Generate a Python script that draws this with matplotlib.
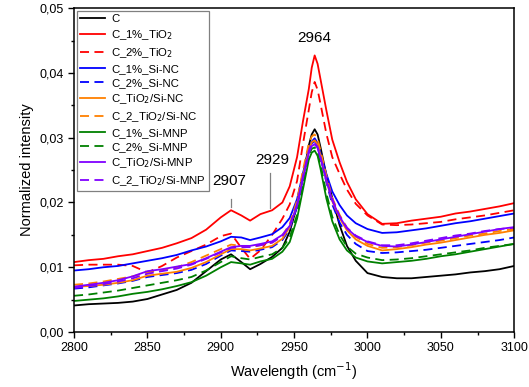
import matplotlib
matplotlib.use('Agg')
import matplotlib.pyplot as plt
from matplotlib.ticker import MultipleLocator, FuncFormatter

plt.rcParams['font.family'] = ['Liberation Sans', 'DejaVu Sans']

wn = [2800, 2810, 2820, 2830, 2840, 2850, 2860, 2870, 2880, 2890, 2900, 2907, 2914,
      2920, 2927, 2935, 2942, 2947, 2952, 2956, 2960, 2962, 2964, 2966, 2968, 2972,
      2976, 2981, 2986, 2992, 3000, 3010, 3020, 3030, 3040, 3050, 3060, 3070, 3080,
      3090, 3100]

c_plain = [.0041, .0043, .0044, .0045, .0047, .0051, .0058, .0065, .0076, .0094, .0112,
           .0120, .0108, .0097, .0105, .0116, .0130, .0155, .0195, .0240, .0288, .0305,
           .0313, .0305, .0285, .0242, .0207, .0165, .0133, .0110, .0091, .0085, .0083,
           .0083, .0085, .0087, .0089, .0092, .0094, .0097, .0102]
c_1_tio2 = [.0108, .0111, .0113, .0117, .0120, .0125, .0130, .0137, .0145, .0158, .0177,
            .0188, .0180, .0172, .0182, .0188, .0200, .0225, .0270, .0325, .0375, .0408,
            .0427, .0414, .0390, .0342, .0297, .0262, .0232, .0205, .0182, .0167, .0168,
            .0172, .0175, .0178, .0183, .0186, .0190, .0194, .0199]
c_2_tio2 = [.0103, .0104, .0104, .0104, .0102, .0092, .0102, .0115, .0125, .0135, .0148,
            .0152, .0130, .0113, .0126, .0150, .0175, .0197, .0233, .0290, .0343, .0370,
            .0386, .0374, .0352, .0306, .0270, .0244, .0220, .0198, .0180, .0166, .0165,
            .0166, .0168, .0170, .0174, .0177, .0180, .0184, .0188]
c_1_sinc = [.0095, .0097, .0100, .0102, .0106, .0110, .0114, .0119, .0126, .0132, .0140,
            .0147, .0146, .0142, .0146, .0151, .0162, .0176, .0205, .0245, .0282, .0294,
            .0299, .0292, .0276, .0244, .0217, .0196, .0180, .0168, .0159, .0153, .0154,
            .0157, .0160, .0164, .0168, .0171, .0175, .0179, .0183]
c_2_sinc = [.0067, .0069, .0072, .0075, .0079, .0085, .0088, .0091, .0096, .0105, .0118,
            .0126, .0125, .0124, .0127, .0131, .0142, .0159, .0193, .0237, .0279, .0291,
            .0295, .0288, .0270, .0231, .0197, .0169, .0150, .0136, .0125, .0122, .0123,
            .0125, .0127, .0130, .0133, .0136, .0139, .0142, .0146]
c_tio2_sinc = [.0070, .0071, .0073, .0076, .0080, .0087, .0090, .0093, .0099, .0108, .0120,
               .0128, .0128, .0126, .0129, .0133, .0144, .0162, .0197, .0241, .0281, .0293,
               .0296, .0289, .0272, .0234, .0202, .0176, .0157, .0143, .0133, .0126, .0128,
               .0131, .0135, .0138, .0142, .0146, .0150, .0153, .0157]
c_2_tio2_sinc = [.0073, .0075, .0078, .0082, .0086, .0092, .0096, .0100, .0108, .0118, .0128,
                 .0135, .0133, .0131, .0134, .0138, .0149, .0167, .0203, .0250, .0291, .0302,
                 .0305, .0298, .0280, .0241, .0207, .0181, .0161, .0147, .0136, .0130, .0131,
                 .0134, .0138, .0141, .0145, .0149, .0152, .0156, .0159]
c_1_simnp = [.0048, .0050, .0052, .0055, .0059, .0062, .0066, .0071, .0077, .0087, .0100,
             .0108, .0106, .0104, .0109, .0113, .0124, .0139, .0175, .0220, .0266, .0277,
             .0280, .0272, .0252, .0206, .0171, .0143, .0126, .0115, .0109, .0106, .0108,
             .0110, .0113, .0117, .0120, .0124, .0128, .0132, .0136]
c_2_simnp = [.0056, .0058, .0061, .0064, .0068, .0072, .0076, .0080, .0085, .0095, .0108,
             .0117, .0114, .0112, .0116, .0120, .0130, .0146, .0181, .0227, .0272, .0283,
             .0285, .0278, .0259, .0214, .0178, .0150, .0132, .0121, .0115, .0111, .0112,
             .0114, .0117, .0120, .0123, .0126, .0130, .0133, .0136]
c_tio2_simnp = [.0070, .0073, .0076, .0080, .0086, .0094, .0097, .0101, .0105, .0114, .0124,
                .0131, .0133, .0133, .0136, .0140, .0150, .0164, .0195, .0237, .0276, .0287,
                .0290, .0284, .0268, .0234, .0203, .0178, .0160, .0148, .0139, .0133, .0132,
                .0135, .0139, .0143, .0147, .0151, .0155, .0159, .0162]
c_2_tio2_simnp = [.0068, .0071, .0074, .0078, .0083, .0090, .0094, .0098, .0104, .0113, .0123,
                  .0130, .0131, .0131, .0134, .0138, .0148, .0164, .0197, .0241, .0280, .0290,
                  .0292, .0286, .0270, .0236, .0205, .0179, .0161, .0149, .0140, .0134, .0134,
                  .0137, .0141, .0145, .0149, .0152, .0156, .0159, .0161]

labels = ['C', 'C_1%_TiO$_2$', 'C_2%_TiO$_2$', 'C_1%_Si-NC', 'C_2%_Si-NC',
          'C_TiO$_2$/Si-NC', 'C_2_TiO$_2$/Si-NC', 'C_1%_Si-MNP', 'C_2%_Si-MNP',
          'C_TiO$_2$/Si-MNP', 'C_2_TiO$_2$/Si-MNP']
series = [c_plain, c_1_tio2, c_2_tio2, c_1_sinc, c_2_sinc, c_tio2_sinc, c_2_tio2_sinc,
          c_1_simnp, c_2_simnp, c_tio2_simnp, c_2_tio2_simnp]
colors = ['black', '#ff0000', '#ff0000', '#0000ff', '#0000ff', '#ff8000', '#ff8000',
          '#008000', '#008000', '#8000ff', '#8000ff']
styles = ['-', '-', '--', '-', '--', '-', '--', '-', '--', '-', '--']

peaks = [2907, 2929, 2964]
peak_text_pos = [(2906, 0.0233), (2935, 0.0265), (2964, 0.0454)]
peak_lines = [(2907, 0.0193, 0.0206), (2933.5, 0.0191, 0.0245)]

fig = plt.figure(figsize=(5.29, 3.87), dpi=100)
ax = fig.add_axes([0.140, 0.142, 0.832, 0.837])

for y, c, ls, lab in zip(series, colors, styles, labels):
    if ls == '--':
        ax.plot(wn, y, color=c, lw=1.3, ls=(0, (5, 3)), label=lab)
    else:
        ax.plot(wn, y, color=c, lw=1.3, ls='-', label=lab)

for p, (tx, ty) in zip(peaks, peak_text_pos):
    ax.text(tx, ty, str(p), ha='center', va='center', fontsize=11)
for lx, y0, y1 in peak_lines:
    ax.plot([lx, lx], [y0, y1], color='gray', lw=0.9)

ax.set_xlim(2800, 3100)
ax.set_ylim(0, 0.05)
ax.xaxis.set_major_locator(MultipleLocator(50))
ax.xaxis.set_minor_locator(MultipleLocator(25))
ax.yaxis.set_major_locator(MultipleLocator(0.01))
ax.yaxis.set_minor_locator(MultipleLocator(0.005))
ax.yaxis.set_major_formatter(FuncFormatter(lambda v, pos: ('%.2f' % v).replace('.', ',')))
ax.tick_params(which='major', direction='out', length=4, width=1, labelsize=9)
ax.tick_params(which='minor', direction='out', length=2.5, width=1)
for s in ax.spines.values():
    s.set_linewidth(1.1)

ax.set_xlabel('Wavelength (cm$^{-1}$)', fontsize=10.5)
ax.set_ylabel('Normalized intensity', fontsize=10.5)

leg = ax.legend(loc='upper left', fontsize=8.2, handlelength=2.2, labelspacing=0.36,
                borderpad=0.3, handletextpad=0.5, fancybox=False, framealpha=1,
                edgecolor='gray', borderaxespad=0.25)
leg.get_frame().set_linewidth(0.9)

fig.savefig('out.png', dpi=100)
